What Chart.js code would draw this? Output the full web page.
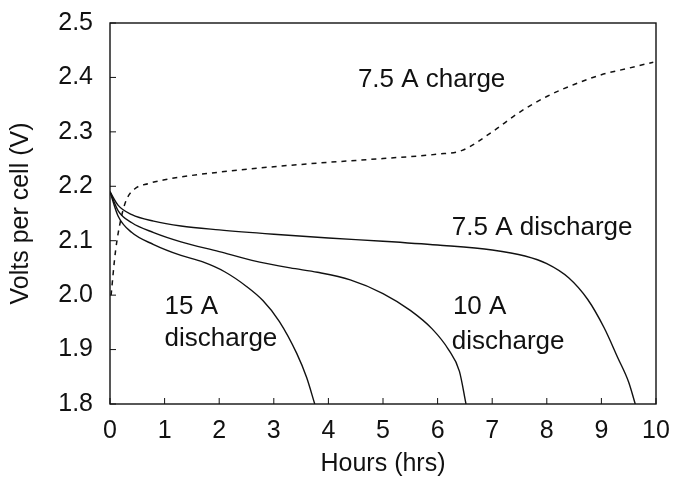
<!DOCTYPE html>
<html>
<head>
<meta charset="utf-8">
<script src="https://cdn.jsdelivr.net/npm/chart.js@4.4.1/dist/chart.umd.min.js"></script>
<style>
  html, body { margin: 0; padding: 0; background: #fff; }
  #wrap { width: 675px; height: 479px; }
</style>
</head>
<body>
<div id="wrap"><canvas id="chart" width="675" height="479"></canvas></div>
<script>
// Battery cell voltage vs. time

const xTicks = [0, 1, 2, 3, 4, 5, 6, 7, 8, 9, 10];
const yTicks = [1.8, 1.9, 2.0, 2.1, 2.2, 2.3, 2.4, 2.5];

// 7.5 A charge (dashed)
const chargeHrs  = [0.02, 0.1, 0.2, 0.3, 0.45, 0.7, 1.0, 1.5, 2.0, 3.0, 4.0, 5.0, 6.0, 6.45, 7.0, 7.5, 8.0, 8.5, 9.0, 9.5, 9.95];
const chargeVolt = [2.00, 2.08, 2.14, 2.175, 2.195, 2.205, 2.212, 2.22, 2.226, 2.236, 2.244, 2.251, 2.259, 2.266, 2.30, 2.336, 2.365, 2.387, 2.405, 2.417, 2.428];

// 7.5 A discharge
const dis75Hrs  = [0, 0.15, 0.4, 0.8, 1.3, 2.0, 3.0, 4.0, 5.0, 6.0, 7.0, 7.6, 8.0, 8.4, 8.75, 9.05, 9.3, 9.5, 9.62];
const dis75Volt = [2.19, 2.165, 2.148, 2.136, 2.127, 2.12, 2.112, 2.105, 2.099, 2.092, 2.083, 2.072, 2.058, 2.032, 1.992, 1.94, 1.885, 1.84, 1.80];

// 10 A discharge
const dis10Hrs  = [0, 0.15, 0.4, 0.8, 1.3, 2.0, 2.6, 3.3, 3.8, 4.4, 5.0, 5.5, 5.9, 6.2, 6.4, 6.52];
const dis10Volt = [2.19, 2.155, 2.133, 2.115, 2.098, 2.08, 2.064, 2.05, 2.042, 2.028, 2.003, 1.972, 1.938, 1.90, 1.86, 1.80];

// 15 A discharge
const dis15Hrs  = [0, 0.15, 0.4, 0.8, 1.3, 1.7, 2.1, 2.5, 2.8, 3.1, 3.42, 3.6, 3.75];
const dis15Volt = [2.19, 2.145, 2.115, 2.093, 2.073, 2.061, 2.043, 2.016, 1.99, 1.952, 1.893, 1.849, 1.80];

// text labels placed in data coordinates
const noteText = ['7.5 A charge', '7.5 A discharge', '15 A', 'discharge', '10 A', 'discharge'];
const noteX    = [4.54, 6.26, 1.0, 1.0, 6.28, 6.26];
const noteY    = [2.395, 2.123, 1.978, 1.919, 1.978, 1.915];

const FONT = '"Liberation Sans", Arial, Helvetica, sans-serif';
const INK = '#111111';

function pts(xs, ys) {
  return xs.map((x, i) => ({ x: x, y: ys[i] }));
}

function lineSet(label, xs, ys, dashed) {
  return {
    label: label,
    data: pts(xs, ys),
    borderColor: INK,
    borderWidth: dashed ? 1.5 : 1.4,
    borderDash: dashed ? [5, 5] : [],
    pointRadius: 0,
    fill: false,
    cubicInterpolationMode: 'monotone'
  };
}

// frame, inward tick marks and text notes
const decor = {
  id: 'decor',
  afterDraw(chart) {
    const ctx = chart.ctx;
    const a = chart.chartArea;
    const xs = chart.scales.x, ys = chart.scales.y;
    ctx.save();
    ctx.strokeStyle = INK;
    ctx.lineWidth = 1.4;
    ctx.strokeRect(a.left, a.top, a.right - a.left, a.bottom - a.top);
    ctx.lineWidth = 1;
    ctx.beginPath();
    xTicks.forEach(v => {
      const px = xs.getPixelForValue(v);
      ctx.moveTo(px, a.bottom);
      ctx.lineTo(px, a.bottom - 6);
    });
    yTicks.forEach(v => {
      const py = ys.getPixelForValue(v);
      ctx.moveTo(a.left, py);
      ctx.lineTo(a.left + 6, py);
    });
    ctx.stroke();

    ctx.fillStyle = INK;
    ctx.font = '26px ' + FONT;
    ctx.textAlign = 'left';
    ctx.textBaseline = 'middle';
    noteText.forEach((t, i) => {
      ctx.fillText(t, xs.getPixelForValue(noteX[i]), ys.getPixelForValue(noteY[i]));
    });
    ctx.restore();
  }
};

new Chart(document.getElementById('chart'), {
  type: 'line',
  data: {
    datasets: [
      lineSet('7.5 A charge', chargeHrs, chargeVolt, true),
      lineSet('7.5 A discharge', dis75Hrs, dis75Volt, false),
      lineSet('10 A discharge', dis10Hrs, dis10Volt, false),
      lineSet('15 A discharge', dis15Hrs, dis15Volt, false)
    ]
  },
  options: {
    responsive: false,
    animation: false,
    layout: { padding: { left: 0, top: 23, right: 19, bottom: 0 } },
    plugins: {
      legend: { display: false },
      tooltip: { enabled: false }
    },
    scales: {
      x: {
        type: 'linear',
        min: 0,
        max: 10,
        afterBuildTicks: s => { s.ticks = xTicks.map(v => ({ value: v })); },
        afterFit: s => { s.height = 75; s.paddingLeft = 0; s.paddingRight = 0; },
        grid: { display: false, drawTicks: false },
        border: { display: false },
        ticks: {
          color: INK,
          padding: 12,
          maxRotation: 0,
          font: { family: FONT, size: 25 },
          callback: v => String(v)
        },
        title: {
          display: true,
          text: 'Hours (hrs)',
          color: INK,
          padding: { top: 0, bottom: 0 },
          font: { family: FONT, size: 25 }
        }
      },
      y: {
        min: 1.8,
        max: 2.5,
        afterBuildTicks: s => { s.ticks = yTicks.map(v => ({ value: v })); },
        afterFit: s => { s.width = 110; s.paddingTop = 0; s.paddingBottom = 0; },
        grid: { display: false, drawTicks: false },
        border: { display: false },
        ticks: {
          color: INK,
          padding: 17,
          font: { family: FONT, size: 25 },
          callback: v => v.toFixed(1)
        },
        title: {
          display: true,
          text: 'Volts per cell (V)',
          color: INK,
          padding: { top: 6, bottom: 0 },
          font: { family: FONT, size: 25 }
        }
      }
    }
  },
  plugins: [decor]
});
</script>
</body>
</html>
